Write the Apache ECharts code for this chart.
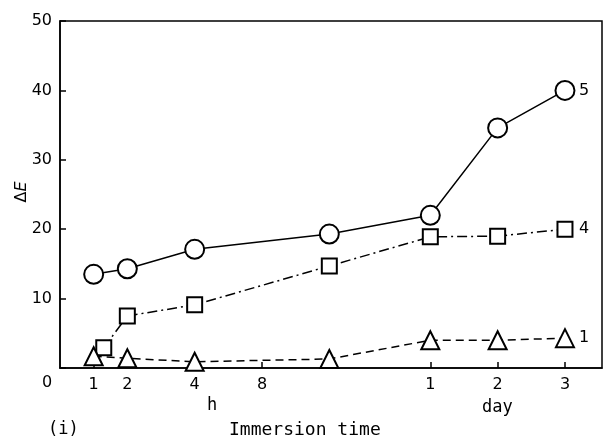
<!DOCTYPE html>
<html>
<head>
<meta charset="utf-8">
<title>Immersion time</title>
<script src="https://cdn.jsdelivr.net/npm/echarts@6/dist/echarts.min.js"></script>
<style>
    html, body { margin: 0; padding: 0; background: #fff; }
    #chart { width: 603px; height: 439px; }
</style>
</head>
<body>
<div id="chart"></div>
<script>
//x轴是分段的：小时段 + 天段，用位置刻度表示
var tickPos = [1, 2, 4, 6, 11, 13, 15];
var tickLabels = ['1', '2', '4', '8', '1', '2', '3'];
//各点的横向位置
var xPos5 = [1, 2, 4, 8, 11, 13, 15];
var xPos4 = [1.3, 2, 4, 8, 11, 13, 15];
var xPos1 = [1, 2, 4, 8, 11, 13, 15];
//数值
var curve5 = [13.5, 14.3, 17.1, 19.3, 22.0, 34.6, 40.0];
var curve4 = [2.9, 7.5, 9.1, 14.7, 18.9, 19.0, 20.0];
var curve1 = [1.7, 1.4, 0.9, 1.3, 4.0, 4.0, 4.3];
var yTicks = [0, 10, 20, 30, 40, 50];

var font = 'DejaVu Sans';
var wordFont = '17px "DejaVu Sans Mono"';

function pairs(xs, ys) {
    var out = [];
    for (var i = 0; i < xs.length; i++) {
        out.push([xs[i], ys[i]]);
    }
    return out;
}

function makeSeries(name, xs, ys, symbol, size, dash, width) {
    return {
        name: name,
        type: 'line',
        data: pairs(xs, ys),
        symbol: symbol,
        symbolSize: size,
        showAllSymbol: true,
        lineStyle: { color: '#000', width: width, type: dash },
        itemStyle: { color: '#fff', borderColor: '#000', borderWidth: 2 },
        endLabel: {
            show: true,
            formatter: name,
            distance: 14,
            color: '#000',
            fontFamily: font,
            fontSize: 16
        },
        emphasis: { disabled: true },
        z: 3
    };
}

var chart = echarts.init(document.getElementById('chart'));
var option = {
    animation: false,
    backgroundColor: '#fff',
    grid: {
        left: 60, right: 1, top: 21, bottom: 71,
        outerBoundsMode: 'none',
        containLabel: false,
        show: true, borderColor: '#000', borderWidth: 1.5
    },
    xAxis: {
        type: 'value',
        min: 0,
        max: 16.1,
        splitLine: { show: false },
        axisLine: { lineStyle: { color: '#000', width: 1.5 } },
        axisTick: {
            inside: true, length: 6, customValues: tickPos,
            lineStyle: { color: '#000', width: 1.5 }
        },
        axisLabel: {
            customValues: tickPos,
            margin: 9,
            color: '#000',
            fontFamily: font,
            fontSize: 16,
            formatter: function (v) {
                var i = tickPos.indexOf(v);
                return i < 0 ? '' : tickLabels[i];
            }
        }
    },
    yAxis: {
        type: 'value',
        min: yTicks[0],
        max: yTicks[yTicks.length - 1],
        interval: 10,
        splitLine: { show: false },
        axisLine: { show: true, lineStyle: { color: '#000', width: 1.5 } },
        axisTick: { inside: true, length: 6, lineStyle: { color: '#000', width: 1.5 } },
        axisLabel: {
            margin: 8,
            color: '#000',
            fontFamily: font,
            fontSize: 16,
            formatter: function (v) { return v === 0 ? '' : String(v); }
        }
    },
    graphic: [
        //纵轴名称 ΔE
        {
            type: 'text', x: 22, y: 192, rotation: Math.PI / 2,
            style: {
                text: '{a|Δ}{b|E}', align: 'center', verticalAlign: 'middle',
                rich: {
                    a: { fontFamily: font, fontSize: 16, fill: '#000' },
                    b: { fontFamily: font, fontSize: 16, fill: '#000', fontStyle: 'italic' }
                }
            }
        },
        { type: 'text', left: 42, top: 375, style: { text: '0', font: '16px ' + font, fill: '#000' } },
        { type: 'text', left: 207, top: 397, style: { text: 'h', font: wordFont, fill: '#000' } },
        { type: 'text', left: 482, top: 399, style: { text: 'day', font: wordFont, fill: '#000' } },
        { type: 'text', left: 48, top: 421, style: { text: '(i)', font: wordFont, fill: '#000' } },
        { type: 'text', left: 229, top: 421, style: { text: 'Immersion time', font: '18px "DejaVu Sans Mono"', fill: '#000' } }
    ],
    series: [
        makeSeries('5', xPos5, curve5, 'circle', 19, 'solid', 1.5),
        makeSeries('4', xPos4, curve4, 'rect', 15, [10, 4, 2, 4], 1.5),
        makeSeries('1', xPos1, curve1, 'triangle', 18, [8, 5], 1.5)
    ]
};
chart.setOption(option);
</script>
</body>
</html>
